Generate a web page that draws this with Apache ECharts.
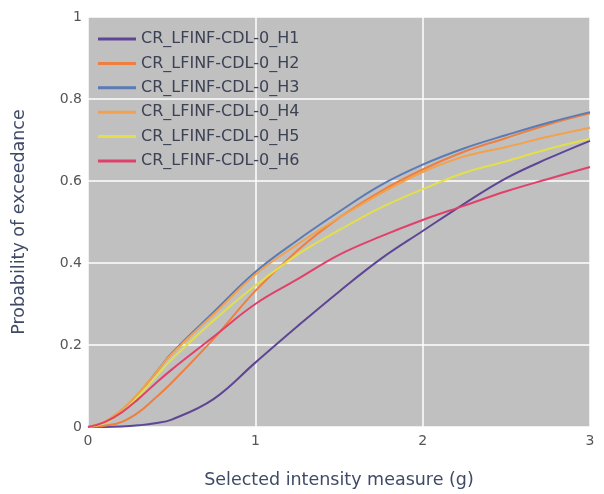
<!DOCTYPE html>
<html>
<head>
<meta charset="utf-8">
<title>Probability of exceedance</title>
<script src="https://cdn.jsdelivr.net/npm/echarts@6/dist/echarts.min.js"></script>
<style>
  html, body { margin: 0; padding: 0; background: #fff; }
  #chart { width: 604px; height: 494px; }
</style>
</head>
<body>
<div id="chart"></div>
<script>
// intensity measure (g)
const im = [0, 0.1, 0.2, 0.3, 0.4, 0.5, 0.75, 1, 1.25, 1.5, 1.75, 2, 2.25, 2.5, 2.75, 3];

// probability of exceedance
const h1 = [0, 0, 0.001, 0.004, 0.009, 0.018, 0.068, 0.157, 0.245, 0.33, 0.41, 0.478, 0.545, 0.607, 0.655, 0.698];
const h2 = [0, 0.003, 0.012, 0.035, 0.07, 0.108, 0.215, 0.332, 0.43, 0.51, 0.575, 0.628, 0.672, 0.705, 0.738, 0.765];
const h3 = [0, 0.012, 0.04, 0.08, 0.13, 0.18, 0.28, 0.378, 0.455, 0.525, 0.59, 0.64, 0.68, 0.712, 0.742, 0.768];
const h4 = [0, 0.013, 0.042, 0.082, 0.13, 0.178, 0.275, 0.372, 0.445, 0.51, 0.57, 0.622, 0.66, 0.683, 0.708, 0.73];
const h5 = [0, 0.01, 0.036, 0.075, 0.12, 0.165, 0.26, 0.345, 0.42, 0.48, 0.535, 0.58, 0.62, 0.648, 0.678, 0.703];
const h6 = [0, 0.012, 0.035, 0.068, 0.105, 0.14, 0.22, 0.3, 0.36, 0.42, 0.465, 0.505, 0.54, 0.575, 0.605, 0.634];

const names = [
  "CR_LFINF-CDL-0_H1",
  "CR_LFINF-CDL-0_H2",
  "CR_LFINF-CDL-0_H3",
  "CR_LFINF-CDL-0_H4",
  "CR_LFINF-CDL-0_H5",
  "CR_LFINF-CDL-0_H6",
];
const colors = ["#5e4595", "#ee7f3e", "#5a7bb5", "#f4a04c", "#e4df48", "#e0416b"];

addEventListener("DOMContentLoaded", () => {
  const chart = echarts.init(document.getElementById("chart"));
  const font = "DejaVu Sans";

  const toPairs = (ys) => im.map((x, i) => [x, ys[i]]);

  const getOption = () => {
    return {
      animation: false,
      color: colors,
      grid: {
        left: 88,
        right: 14,
        top: 17,
        bottom: 59,
        show: true,
        backgroundColor: "#c0c0c0",
        borderWidth: 0,
      },
      legend: {
        orient: "vertical",
        left: 93,
        top: 26,
        itemWidth: 38,
        itemHeight: 16,
        itemGap: 8.4,
        icon: "path://M0,6.5 L38,6.5 L38,9.5 L0,9.5 Z",
        textStyle: { fontFamily: font, fontSize: 16, color: "#3c4254" },
        data: names,
      },
      xAxis: {
        type: "value",
        min: 0,
        max: 3,
        interval: 1,
        name: "Selected intensity measure (g)",
        nameLocation: "middle",
        nameGap: 44,
        nameTextStyle: { fontFamily: font, fontSize: 17.5, color: "#3e4a66" },
        axisLine: { show: false },
        axisTick: { show: false },
        axisLabel: { fontFamily: font, fontSize: 14, color: "#555", margin: 7 },
        splitLine: { lineStyle: { color: "#ffffff", width: 1.5 } },
      },
      yAxis: {
        type: "value",
        min: 0,
        max: 1,
        interval: 0.2,
        name: "Probability of exceedance",
        nameLocation: "middle",
        nameGap: 60,
        nameTextStyle: { fontFamily: font, fontSize: 17.5, color: "#3e4a66" },
        axisLine: { show: false },
        axisTick: { show: false },
        axisLabel: { fontFamily: font, fontSize: 14, color: "#555", margin: 6 },
        splitLine: { lineStyle: { color: "#ffffff", width: 1.5 } },
      },
      series: [h1, h2, h3, h4, h5, h6].map((ys, i) => ({
        name: names[i],
        type: "line",
        data: toPairs(ys),
        smooth: 0.4,
        symbol: "none",
        lineStyle: { width: 2, color: colors[i] },
      })),
    };
  };

  chart.setOption(getOption());
});
</script>
</body>
</html>
